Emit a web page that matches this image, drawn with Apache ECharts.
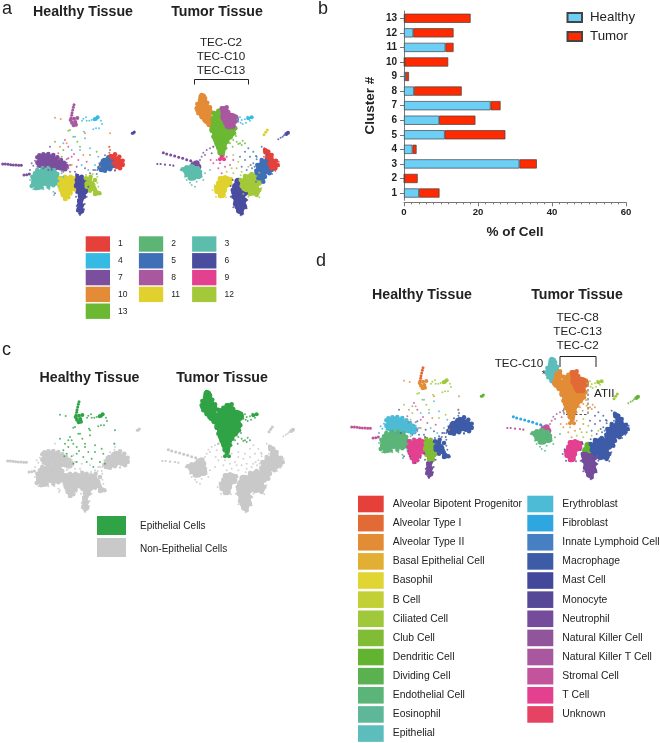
<!DOCTYPE html>
<html><head><meta charset="utf-8">
<style>html,body{margin:0;padding:0;background:#fff}#c{width:660px;height:743px}</style>
<script src="https://cdn.jsdelivr.net/npm/echarts@6/dist/echarts.min.js"></script>
</head><body><div id="c"></div>
<script>
// ---- bar chart values ----
const clusters = ['1','2','3','4','5','6','7','8','9','10','11','12','13'];
const healthyPct = [4.05,0.1,31.2,2.3,11,9.5,23.4,2.7,0.5,0.15,11.2,2.5,0.2];
const tumorPct   = [5.55,3.6,4.7,1.1,16.4,9.8,2.7,12.9,0.85,11.8,2.2,10.9,17.8];

// ---- cluster / cell type legends ----
const clusterColors = {1:'#E5403A',2:'#5CB575',3:'#5DBDAD',4:'#35BBE3',5:'#3F6FB7',6:'#4A4D9F',7:'#7B4F9D',8:'#A9589F',9:'#E3408F',10:'#E38B36',11:'#E0D12E',12:'#A3C83A',13:'#6BB832'};
const clusterLegendRows = [[1,2,3],[4,5,6],[7,8,9],[10,11,12],[13]];
const cellTypesLeft = ['Alveolar Bipotent Progenitor','Alveolar Type I','Alveolar Type II','Basal Epithelial Cell','Basophil','B Cell','Ciliated Cell','Club Cell','Dendritic Cell','Dividing Cell','Endothelial Cell','Eosinophil','Epithelial'];
const cellColorsLeft = ['#E5403A','#E26A35','#E28C36','#E2AE33','#E0D532','#C2D036','#9FC83A','#80BC36','#62B32F','#5BB14F','#5CB578','#5DB798','#5DBDBD'];
const cellTypesRight = ['Erythroblast','Fibroblast','Innate Lymphoid Cell','Macrophage','Mast Cell','Monocyte','Neutrophil','Natural Killer Cell','Natural Killer T Cell','Stromal Cell','T Cell','Unknown'];
const cellColorsRight = ['#4DBBD5','#2EA7E0','#4680C2','#3E5BA8','#44489A','#574797','#744C9B','#90559B','#A9589F','#C3539A','#E3408F','#E54264'];

// ---- UMAP cells, healthy tissue ----
const hTopStreak = [[222,314],[220,322],[218,330],[216,338],[215,346],[213,354]];
const hTopBlob = [[212,360],[222,356],[232,354],[216,368],[226,366],[221,376],[228,374]];
const hCyanBlob = [[293,352],[288,356],[284,358]];
const hCyanDots = [[258,352],[250,356],[246,362],[275,360],[268,362],[288,385],[297,385],[252,395],[303,362],[306,372],[260,362],[280,388]];
const hIsland = [[400,399],[397,400],[403,396]];
const hPurple = [[125,475],[140,472],[155,475],[120,488],[135,486],[150,488],[165,484],[178,492],[190,500],[170,498],[155,497]];
const hPurpleEdge = [[112,472],[118,466],[130,463],[145,462],[160,465],[172,472],[183,480],[192,488],[200,498],[196,508],[180,505],[165,500],[150,502],[135,498],[120,498],[112,488]];
const hPurpleDots = [[200,488],[205,505],[112,500],[130,505],[145,510],[185,512],[210,495],[95,490],[100,497],[105,482],[90,510]];
const hLeftStreak = [[8,492],[16,492],[24,493],[32,494],[40,495],[48,495],[56,496],[64,496],[72,525],[80,524],[88,522]];
const hTeal = [[115,520],[130,515],[145,515],[160,520],[105,535],[120,532],[135,530],[150,530],[165,532],[105,550],[120,548],[135,546],[150,546],[165,545],[178,540],[115,558]];
const hTealEdge = [[97,530],[100,545],[95,558],[108,565],[125,562],[145,560],[160,556],[178,552],[182,535],[172,522],[162,510],[145,505],[128,505],[112,510],[105,520]];
const hTealDots = [[100,568],[130,568],[148,568],[160,575],[162,585],[185,520],[190,530],[90,540],[175,560]];
const hYellow = [[190,545],[205,540],[218,540],[188,558],[202,555],[216,555],[192,572],[205,570],[198,585]];
const hYellowEdge = [[180,535],[195,530],[212,530],[226,538],[228,555],[222,568],[212,578],[205,592],[195,597],[188,585],[182,570],[178,552]];
const hYellowDots = [[176,565],[226,572],[200,600],[214,585],[182,580]];
const hDark = [[238,540],[250,545],[235,555],[248,558],[240,570],[252,572],[245,585]];
const hDarkEdge = [[232,528],[245,530],[258,540],[262,555],[258,572],[252,590],[240,590],[232,575],[228,558],[230,540]];
const hDarkLower = [[240,605],[242,618],[238,628],[244,632]];
const hDarkLowerEdge = [[236,600],[246,600],[248,615],[246,630],[240,640],[233,632],[235,615]];
const hDarkDots = [[228,522],[265,560],[260,590],[228,590],[250,597],[254,612],[230,618],[240,645],[252,628]];
const hLime = [[268,540],[262,552],[275,552],[280,565],[270,562],[288,578]];
const hLimeEdge = [[258,535],[272,530],[285,540],[280,555],[285,570],[298,580],[285,582],[270,572],[260,560]];
const hLimeDots = [[292,530],[295,560],[302,582],[258,525],[278,522],[292,548]];
const hBlue = [[312,490],[325,482],[338,478],[318,500],[332,495],[308,505]];
const hBlueEdge = [[303,495],[312,480],[325,472],[338,470],[345,480],[345,498],[330,508],[315,512],[303,510],[298,503]];
const hBlueDots = [[292,510],[298,490],[290,522],[280,510],[315,466],[345,512]];
const hRed = [[340,472],[352,478],[362,485],[350,490],[358,498]];
const hRedEdge = [[332,468],[345,463],[358,470],[368,482],[368,495],[360,505],[350,500],[340,490]];
const hRedDots = [[328,458],[330,450],[372,492],[345,510],[328,440]];
const hSparse1 = [[195,420],[205,440],[175,460],[215,470],[235,480],[260,485],[200,478],[222,462],[178,478],[205,500]];
const hSparse2 = [[232,425],[240,440],[210,390],[220,410],[165,425],[190,450],[270,465],[290,455],[205,392],[185,470]];
const hSparse3 = [[225,410],[255,415],[240,450],[270,445],[295,470],[245,495],[285,495],[265,510],[190,430],[215,450]];
const hSparse4 = [[200,430],[165,353],[182,357],[330,400],[328,440],[250,465],[215,495],[300,500],[255,400],[180,440]];
const hSparse5 = [[150,440],[155,510],[190,515],[225,515],[285,510],[305,480],[230,500],[165,580],[255,505],[210,515],[270,520],[205,475]];

// ---- UMAP cells, tumor tissue ----
const tOrange = [[607,292],[610,305],[600,315],[615,318],[597,328],[612,330],[608,342]];
const tOrangeEdge = [[605,285],[615,295],[622,308],[605,352],[595,340],[590,325],[592,312],[600,300]];
const tOrangeLower = [[625,332],[622,345],[618,357],[632,358],[630,370]];
const tOrangeLowerEdge = [[630,322],[640,338],[642,355],[638,372],[628,375],[618,365]];
const tGreen = [[650,345],[662,345],[655,358],[668,360],[645,372],[660,372],[675,372],[640,388],[655,388],[670,388],[685,385],[698,385],[648,402],[662,402],[678,400],[692,400],[650,416],[664,416],[680,412],[655,430],[670,428],[660,442],[668,442],[664,455]];
const tGreenEdge = [[640,340],[655,332],[672,340],[675,360],[695,378],[706,385],[702,400],[692,412],[682,425],[674,445],[668,465],[660,460],[656,440],[648,425],[640,410],[635,392],[640,375],[638,358]];
const tGreenDots = [[700,420],[720,430],[725,435],[710,425],[735,430],[640,440],[690,430],[708,408],[715,432],[698,440],[680,445],[728,422]];
const tMagenta = [[672,330],[680,340],[673,352],[685,352],[698,352],[680,365],[693,365],[705,358],[685,375],[695,376]];
const tMagentaEdge = [[665,325],[680,322],[682,335],[695,345],[708,350],[705,365],[698,378],[685,382],[680,370],[672,358],[668,342]];
const tCyan = [[755,352],[745,355]];
const tCyanDots = [[735,358],[725,360],[715,365],[720,352],[712,358],[738,368],[728,372],[750,362],[742,350],[722,368]];
const tYellowStreak = [[802,390],[797,397],[792,404]];
const tIsland = [[864,398],[859,402]];
const tIslandDots = [[848,410],[835,418],[852,406],[842,413]];
const tStreakUpper = [[490,458],[500,462],[512,465],[524,468],[536,472],[548,475],[560,479],[572,482],[584,487]];
const tStreakLower = [[472,492],[482,492],[495,494],[510,495],[520,497]];
const tCluster = [[590,490],[580,495],[595,500]];
const tClusterDots = [[605,470],[620,450],[640,440],[635,460],[615,465],[600,480],[630,445],[610,458],[575,485]];
const tTeal = [[560,510],[575,505],[590,510],[565,520],[580,520],[575,530],[595,525]];
const tTealEdge = [[548,508],[560,502],[575,500],[592,505],[600,515],[595,530],[582,535],[570,535],[560,525]];
const tTealDots = [[560,540],[575,555],[590,545],[605,530],[615,520],[542,510],[570,548],[585,560],[555,530],[610,540],[630,510]];
const tYellow = [[665,540],[680,540],[660,555],[673,555],[655,570],[668,570],[665,583],[685,548]];
const tYellowEdge = [[660,535],[675,532],[692,538],[685,555],[675,570],[670,585],[660,588],[650,575],[648,562],[655,548]];
const tYellowDots = [[638,570],[644,556],[696,535],[678,592],[648,590]];
const tDarkTop = [[715,545],[727,552],[708,560],[722,565]];
const tDark = [[705,575],[718,580],[730,578],[710,592],[724,592],[712,605],[726,605],[715,618],[728,618],[720,630]];
const tDarkEdge = [[698,570],[738,580],[735,600],[735,620],[725,640],[715,632],[705,612],[700,590]];
const tDarkDots = [[692,590],[742,600],[700,622],[722,646],[740,625],[698,540],[692,558]];
const tLime = [[740,535],[755,530],[768,535],[732,548],[747,545],[762,548],[775,545],[735,562],[750,560],[765,562],[755,575],[768,575]];
const tLimeEdge = [[722,540],[735,528],[755,522],[775,530],[778,550],[778,570],[770,585],[750,582],[738,570],[725,558]];
const tLimeDots = [[722,526],[778,518],[730,582],[745,590],[778,592],[784,565]];
const tBlue = [[790,490],[780,500],[795,500],[810,490],[775,515],[790,515],[805,510],[820,500],[785,530]];
const tBlueEdge = [[772,495],[785,480],[800,478],[815,485],[825,500],[815,510],[808,520],[795,530],[790,545],[775,535],[770,515]];
const tBlueDots = [[770,478],[764,500],[800,466],[756,505],[768,545],[816,522],[752,495],[768,468]];
const tRed = [[798,455],[805,465],[812,475],[820,485],[826,495],[815,500]];
const tRedEdge = [[795,450],[805,455],[815,465],[828,482],[833,495],[826,505],[815,505],[808,490],[802,472]];
const tRedDots = [[793,445],[836,485],[837,498],[826,512],[792,470]];
const tPink = [[665,470],[660,478],[672,478]];
const tPinkDots = [[650,480],[640,490],[655,505],[675,500],[690,495],[665,520],[700,480],[680,470],[632,480],[660,490]];
const tSparse1 = [[745,445],[760,455],[770,470],[750,470],[735,480],[725,500],[740,510],[760,490],[765,510],[735,455],[720,470],[785,440]];
const tSparse2 = [[700,520],[710,505],[725,515],[695,505],[680,515],[715,485],[745,500],[700,465]];

// ---- marker scale by group ----
const S = {big:8,mid:6,edge:4.5,small:4,streak:3,dot:2};
const groupSize = {hTopStreak:S.streak,hTopBlob:S.small,hCyanBlob:S.small,hCyanDots:S.dot,hIsland:S.streak,hPurple:S.big,hPurpleEdge:S.edge,hPurpleDots:S.dot,hLeftStreak:S.streak,hTeal:S.big,hTealEdge:S.edge,hTealDots:S.dot,hYellow:S.big,hYellowEdge:S.edge,hYellowDots:S.dot,hDark:S.big,hDarkEdge:S.edge,hDarkLower:S.mid,hDarkLowerEdge:3.5,hDarkDots:S.dot,hLime:S.mid,hLimeEdge:S.edge,hLimeDots:S.dot,hBlue:S.big,hBlueEdge:S.edge,hBlueDots:S.dot,hRed:S.mid,hRedEdge:S.edge,hRedDots:S.dot,hSparse1:S.dot,hSparse2:S.dot,hSparse3:S.dot,hSparse4:S.dot,hSparse5:S.dot};
const tGroupSize = {tOrange:S.big,tOrangeEdge:S.edge,tOrangeLower:S.big,tOrangeLowerEdge:S.edge,tGreen:S.big,tGreenEdge:S.edge,tGreenDots:S.dot,tMagenta:S.big,tMagentaEdge:S.edge,tCyan:S.small,tCyanDots:S.dot,tYellowStreak:S.streak,tIsland:S.small,tIslandDots:S.dot,tStreakUpper:S.streak,tStreakLower:2.2,tCluster:S.mid,tClusterDots:S.dot,tTeal:S.big,tTealEdge:S.edge,tTealDots:S.dot,tYellow:S.big,tYellowEdge:S.edge,tYellowDots:S.dot,tDarkTop:S.big,tDark:S.big,tDarkEdge:S.edge,tDarkDots:S.dot,tLime:S.big,tLimeEdge:S.edge,tLimeDots:S.dot,tBlue:S.big,tBlueEdge:S.edge,tBlueDots:S.dot,tRed:S.mid,tRedEdge:S.edge,tRedDots:S.dot,tPink:S.small,tPinkDots:S.dot,tSparse1:S.dot,tSparse2:S.dot};
const cells = {hTopStreak,hTopBlob,hCyanBlob,hCyanDots,hIsland,hPurple,hPurpleEdge,hPurpleDots,hLeftStreak,hTeal,hTealEdge,hTealDots,hYellow,hYellowEdge,hYellowDots,hDark,hDarkEdge,hDarkLower,hDarkLowerEdge,hDarkDots,hLime,hLimeEdge,hLimeDots,hBlue,hBlueEdge,hBlueDots,hRed,hRedEdge,hRedDots,hSparse1,hSparse2,hSparse3,hSparse4,hSparse5,tOrange,tOrangeEdge,tOrangeLower,tOrangeLowerEdge,tGreen,tGreenEdge,tGreenDots,tMagenta,tMagentaEdge,tCyan,tCyanDots,tYellowStreak,tIsland,tIslandDots,tStreakUpper,tStreakLower,tCluster,tClusterDots,tTeal,tTealEdge,tTealDots,tYellow,tYellowEdge,tYellowDots,tDarkTop,tDark,tDarkEdge,tDarkDots,tLime,tLimeEdge,tLimeDots,tBlue,tBlueEdge,tBlueDots,tRed,tRedEdge,tRedDots,tPink,tPinkDots,tSparse1,tSparse2};

// ---- colours per panel ----
const c = clusterColors;
const panelAHealthy = {hTopStreak:c[8],hTopBlob:c[8],hCyanBlob:c[4],hCyanDots:c[4],hIsland:c[6],hPurple:c[7],hPurpleDots:c[7],hLeftStreak:c[7],hTeal:c[3],hTealDots:c[3],hYellow:c[11],hYellowDots:c[11],hDark:c[6],hDarkLower:c[6],hDarkDots:c[6],hLime:c[12],hLimeDots:c[12],hBlue:c[5],hBlueDots:c[5],hRed:c[1],hRedDots:c[1],hSparse1:c[9],hSparse2:c[13],hSparse3:c[4],hSparse4:c[10],hSparse5:c[7]};
const panelATumor = {tOrange:c[10],tOrangeLower:c[10],tGreen:c[13],tGreenDots:c[13],tMagenta:c[8],tCyan:c[4],tCyanDots:c[4],tYellowStreak:c[11],tIsland:c[6],tIslandDots:c[6],tStreakUpper:c[7],tStreakLower:c[7],tCluster:c[7],tClusterDots:c[7],tTeal:c[3],tTealDots:c[3],tYellow:c[11],tYellowDots:c[11],tDarkTop:c[6],tDark:c[6],tDarkDots:c[6],tLime:c[12],tLimeDots:c[12],tBlue:c[5],tBlueDots:c[5],tRed:c[1],tRedDots:c[1],tPink:c[9],tPinkDots:c[9],tSparse1:c[5],tSparse2:c[12]};
const EPI='#2FA345', NON='#C9C9C9';
const epithelialHealthy = ['hTopStreak','hTopBlob','hCyanBlob','hCyanDots','hSparse1','hSparse2','hSparse3','hSparse4'];
const epithelialTumor = ['tOrange','tOrangeEdge','tOrangeLower','tOrangeLowerEdge','tGreen','tGreenEdge','tGreenDots','tMagenta','tMagentaEdge','tCyan','tCyanDots','tPink'];
const [A1,A2,A3,A4,A5,A6,A7,A8,A9,A10,A11,A12,A13]=cellColorsLeft;
const [B1,B2,B3,B4,B5,B6,B7,B8,B9,B10,B11,B12]=cellColorsRight;
const panelDHealthy = {hTopStreak:A2,hTopBlob:A3,hCyanBlob:A7,hCyanDots:A7,hIsland:A9,hPurple:B1,hPurpleDots:B2,hLeftStreak:B10,hTeal:A11,hTealDots:A11,hYellow:B11,hYellowDots:B6,hDark:A8,hDarkLower:B7,hDarkDots:B6,hLime:B4,hLimeDots:B4,hBlue:B4,hBlueDots:B5,hRed:B4,hRedDots:B4,hSparse1:B10,hSparse2:A7,hSparse3:B1,hSparse4:A3,hSparse5:B4};
const panelDTumor = {tOrange:A13,tOrangeLower:A3,tGreen:A3,tGreenDots:A3,tMagenta:A2,tCyan:A7,tCyanDots:A7,tYellowStreak:A7,tIsland:A9,tIslandDots:A9,tStreakUpper:B2,tStreakLower:B10,tCluster:B10,tClusterDots:B9,tTeal:A11,tTealDots:A11,tYellow:B11,tYellowDots:B6,tDarkTop:A9,tDark:B7,tDarkDots:B6,tLime:B4,tLimeDots:B4,tBlue:B4,tBlueDots:B4,tRed:B4,tRedDots:B4,tPink:A3,tPinkDots:A3,tSparse1:B4,tSparse2:A7};

// ---- panel placement in the page ----
const panels = [
 {key:'a',side:'h',dx:0,dy:0,map:panelAHealthy},
 {key:'a',side:'t',dx:0,dy:0,map:panelATumor},
 {key:'c',side:'h',dx:5,dy:297,map:Object.fromEntries(Object.keys(groupSize).map(k=>[k,epithelialHealthy.includes(k)?EPI:NON]))},
 {key:'c',side:'t',dx:5,dy:297,map:Object.fromEntries(Object.keys(tGroupSize).map(k=>[k,epithelialTumor.includes(k)?EPI:NON]))},
 {key:'d',side:'h',dx:349,dy:263,map:panelDHealthy},
 {key:'d',side:'t',dx:350,dy:264,map:panelDTumor}
];

const FONT='"Liberation Sans",Arial,sans-serif';
const grid=[],xAxis=[],yAxis=[],series=[];
panels.forEach((p,i)=>{
  const xmin=p.side==='h'?0:440, xmax=p.side==='h'?440:900;
  grid.push({left:p.dx+xmin/3,top:p.dy+90,width:(xmax-xmin)/3,height:130});
  xAxis.push({gridIndex:i,type:'value',min:xmin,max:xmax,show:false});
  yAxis.push({gridIndex:i,type:'value',min:270,max:660,inverse:true,show:false});
  const sizes=p.side==='h'?groupSize:tGroupSize;
  const order=Object.keys(sizes).sort((a,b)=>(sizes[a]===S.dot)-(sizes[b]===S.dot));
  order.forEach(k=>{
    const col=p.map[k]||p.map[k.replace('Edge','')];
    series.push({type:'scatter',name:p.key+'-'+k,xAxisIndex:i,yAxisIndex:i,data:cells[k],symbolSize:sizes[k],
      itemStyle:{color:col,opacity:sizes[k]===S.dot?0.8:1},silent:true,animation:false});
  });
});

// bar panel
const bi=panels.length;
grid.push({left:404,top:11,width:222,height:189.3});
xAxis.push({gridIndex:bi,type:'value',min:0,max:60,interval:20,offset:2,
  name:'% of Cell',nameLocation:'middle',nameGap:23,nameTextStyle:{fontFamily:FONT,fontWeight:'bold',fontSize:13.5,color:'#222'},
  axisLine:{show:true,lineStyle:{color:'#777',width:1}},axisTick:{show:true,length:4,lineStyle:{color:'#777'}},
  minorTick:{show:true,splitNumber:10,length:2,lineStyle:{color:'#777'}},splitLine:{show:false},
  axisLabel:{fontFamily:FONT,fontWeight:'bold',fontSize:9.6,color:'#222',margin:5}});
yAxis.push({gridIndex:bi,type:'category',data:clusters,
  name:'Cluster #',nameLocation:'middle',nameGap:27,nameRotate:90,nameTextStyle:{fontFamily:FONT,fontWeight:'bold',fontSize:13.5,color:'#222'},
  axisLine:{show:true,lineStyle:{color:'#777',width:1}},axisTick:{show:true,alignWithLabel:true,length:4,lineStyle:{color:'#777'}},
  axisLabel:{fontFamily:FONT,fontWeight:'bold',fontSize:10,color:'#222',margin:7}});
[['Healthy',healthyPct,'#6CCFF6'],['Tumor',tumorPct,'#FF2A00']].forEach(([name,d,col])=>{
  series.push({type:'bar',name,stack:'pct',xAxisIndex:bi,yAxisIndex:bi,data:d,barWidth:9.2,
    itemStyle:{color:col,borderColor:'#444',borderWidth:0.7},animation:false});
});

// ---- text, brackets, legends ----
const g=[];
const T=(text,x,y,o={})=>g.push({type:'text',x,y,silent:true,style:Object.assign({text,fontFamily:FONT,fontSize:11.7,fill:'#222',textAlign:'center',textVerticalAlign:'middle'},o)});
const title=(s,x,y)=>T(s,x,y,{fontWeight:'bold',fontSize:14.2});
const tag=(s,x,y)=>T(s,x,y,{fontSize:18,textAlign:'left'});
tag('a',2,9);tag('b',318,9);tag('c',2,350);tag('d',316,261);
title('Healthy Tissue',83,12);title('Tumor Tissue',217,12);
title('Healthy Tissue',89.5,378);title('Tumor Tissue',222,378);
title('Healthy Tissue',422,295);title('Tumor Tissue',577,295);
['TEC-C2','TEC-C10','TEC-C13'].forEach((s,i)=>T(s,221,43+14*i));
['TEC-C8','TEC-C13','TEC-C2'].forEach((s,i)=>T(s,577.7,317.3+14.2*i));
T('TEC-C10',519,364);T('*',544,375,{fontSize:11});T('ATII',594,394,{textAlign:'left'});
const bracket=(x1,x2,y1,y2)=>g.push({type:'polyline',silent:true,shape:{points:[[x1,y2],[x1,y1],[x2,y1],[x2,y2]]},style:{stroke:'#222',fill:null,lineWidth:1}});
bracket(194.5,248.5,79.5,84.5);bracket(560,596,356.5,367);
g.push({type:'rect',silent:true,shape:{x:564,y:381.5,width:24,height:33},style:{stroke:'#222',fill:null,lineWidth:0.8,lineDash:[2.5,2]}});
const swatch=(x,y,w,h,col)=>g.push({type:'rect',silent:true,shape:{x,y,width:w,height:h},style:{fill:col}});
clusterLegendRows.forEach((row,r)=>row.forEach((n,j)=>{
  const x=85.7+53.2*j,y=244+16.8*r;
  swatch(x,y-7.7,24.3,15.4,clusterColors[n]);
  T(String(n),x+32.3,y,{fontSize:8.5,textAlign:'left'});
}));
swatch(97,516,29,19,EPI);swatch(97,538,29,19,NON);
T('Epithelial Cells',140,526,{fontSize:10,textAlign:'left'});
T('Non-Epithelial Cells',140,549,{fontSize:10,textAlign:'left'});
cellTypesLeft.forEach((s,i)=>{const y=504+19.13*i;swatch(358,y-8.3,25.7,16.6,cellColorsLeft[i]);T(s,392.7,y,{fontSize:10.4,textAlign:'left'});});
cellTypesRight.forEach((s,i)=>{const y=504+19.13*i;swatch(527.3,y-8.3,26,16.6,cellColorsRight[i]);T(s,562.3,y,{fontSize:10.4,textAlign:'left'});});

const chart=echarts.init(document.getElementById('c'),null,{renderer:'canvas'});
chart.setOption({animation:false,backgroundColor:'#fff',grid,xAxis,yAxis,series,graphic:g,
  legend:{data:['Healthy','Tumor'],icon:'rect',orient:'vertical',left:561.5,top:6,itemWidth:14.5,itemHeight:9,itemGap:6,selectedMode:false,
    textStyle:{fontFamily:FONT,fontSize:13.3,color:'#222',padding:[0,0,0,3]}}});
</script></body></html>
